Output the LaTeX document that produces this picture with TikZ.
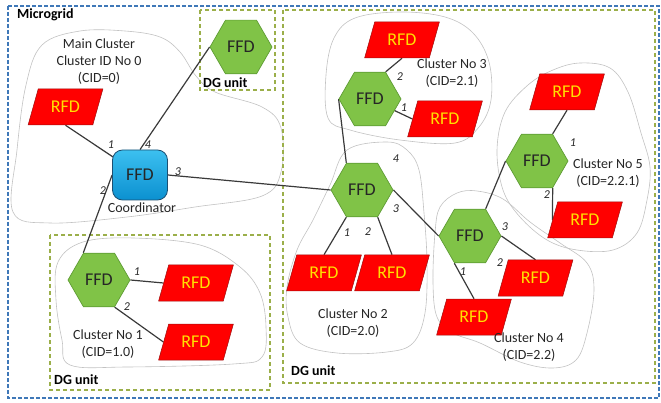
\documentclass[tikz,border=0pt]{standalone}
\usepackage{fontspec}
\setmainfont{Carlito}
\usetikzlibrary{shapes.geometric,backgrounds,calc}
\definecolor{ffdgreen}{HTML}{80C347}
\definecolor{ffdedge}{HTML}{5E9C34}
\definecolor{rfdred}{HTML}{FF0000}
\definecolor{rfdedge}{HTML}{9C1010}
\definecolor{rfdtext}{HTML}{FFE000}
\definecolor{coordtop}{HTML}{3CC0F0}
\definecolor{coordbot}{HTML}{0B90D0}
\definecolor{coordedge}{HTML}{1C4F72}
\definecolor{dggreen}{HTML}{9BAF4A}
\definecolor{gridblue}{HTML}{3F78B8}
\definecolor{linkgray}{HTML}{3A3A3A}
\definecolor{blobgray}{HTML}{C2C2C2}
\definecolor{txt}{HTML}{262626}
\begin{document}
\begin{tikzpicture}[x=1pt,y=-1pt,
  ffd/.style={regular polygon, regular polygon sides=6, minimum size=62pt, inner sep=0pt,
    fill=ffdgreen, draw=ffdedge, line width=0.7pt, font=\fontsize{18}{20}\selectfont, text=txt},
  rfd/.style={trapezium, trapezium left angle=65, trapezium right angle=115, trapezium stretches=true,
    minimum width=75pt, minimum height=36pt, inner sep=0pt, fill=rfdred, draw=rfdedge, line width=0.5pt,
    font=\fontsize{18}{20}\selectfont, text=rfdtext},
  coord/.style={rectangle, rounded corners=10pt, minimum width=55pt, minimum height=50pt,
    top color=coordtop, bottom color=coordbot, draw=coordedge, line width=0.8pt,
    font=\fontsize{18}{20}\selectfont, text=txt},
  link/.style={draw=linkgray, line width=1.2pt},
  blob/.style={draw=blobgray, line width=0.6pt},
  dgbox/.style={draw=dggreen, line width=1.8pt, dash pattern=on 4pt off 3pt},
  gridbox/.style={draw=gridblue, line width=1.8pt, dash pattern=on 4pt off 2pt},
  caption/.style={font=\fontsize{14}{17}\selectfont, text=txt, inner sep=0pt, align=center},
  tag/.style={font=\bfseries\fontsize{14}{16}\selectfont, text=black, inner sep=0pt, anchor=west},
  port/.style={font=\itshape\fontsize{12}{14}\selectfont, text=txt, inner sep=0pt},
]
\useasboundingbox (0,0) rectangle (661,403);

% devices
\node[ffd] (dg) at (241,47) {FFD};
\node[coord] (co) at (140,175) {FFD};
\node[rfd] (r0) at (65.5,107) {RFD};
\node[ffd] (c1) at (99,280) {FFD};
\node[rfd] (r11) at (196,283) {RFD};
\node[rfd] (r12) at (196,342) {RFD};
\node[ffd] (c2) at (362,190) {FFD};
\node[rfd] (r21) at (324,273) {RFD};
\node[rfd] (r22) at (392,273) {RFD};
\node[ffd] (c3) at (370,99) {FFD};
\node[rfd] (r31) at (402,40) {RFD};
\node[rfd] (r32) at (445,119) {RFD};
\node[ffd] (c5) at (537,161) {FFD};
\node[rfd] (r51) at (567,92) {RFD};
\node[rfd] (r52) at (585,220) {RFD};
\node[ffd] (c4) at (470,236) {FFD};
\node[rfd] (r41) at (535.5,278) {RFD};
\node[rfd] (r42) at (474,317) {RFD};

% cluster captions
\node[caption] (cap0) at (99,62) {Main Cluster\\Cluster ID No 0\\(CID=0)};
\node[caption] (capco) at (142,208) {Coordinator};
\node[caption] (cap1) at (108,344) {Cluster No 1\\(CID=1.0)};
\node[caption] (cap2) at (353,323.5) {Cluster No 2\\(CID=2.0)};
\node[caption] (cap3) at (452,73.5) {Cluster No 3\\(CID=2.1)};
\node[caption] (cap5) at (608,173.5) {Cluster No 5\\(CID=2.2.1)};
\node[caption] (cap4) at (529,347.5) {Cluster No 4\\(CID=2.2)};

% area tags
\node[tag] (mg) at (17,15) {Microgrid};
\node[tag] (dgt1) at (203,83) {DG unit};
\node[tag] (dgt2) at (54,380) {DG unit};
\node[tag] (dgt3) at (291,371) {DG unit};

% port numbers
\node[port] (p01) at (111,145) {1};
\node[port] (p04) at (148,145) {4};
\node[port] (p03) at (178,172) {3};
\node[port] (p02) at (103,191) {2};
\node[port] (p11) at (137,272) {1};
\node[port] (p12) at (127,307) {2};
\node[port] (p24) at (396,159) {4};
\node[port] (p23) at (396,209) {3};
\node[port] (p21) at (347,233) {1};
\node[port] (p22) at (368,232) {2};
\node[port] (p32) at (400,77) {2};
\node[port] (p31) at (404,108) {1};
\node[port] (p51) at (573,143) {1};
\node[port] (p52) at (547,195) {2};
\node[port] (p43) at (505,227) {3};
\node[port] (p42) at (500,263) {2};
\node[port] (p41) at (463,272) {1};

\begin{pgfonlayer}{background}
  % cluster outlines
  \draw[blob] plot[smooth cycle, tension=0.6] coordinates {
    (13,212) (17,150) (26,85) (42,45) (80,31) (125,31) (160,37) (180,52) (196,76) (215,92)
    (262,107) (281,128) (281,172) (262,196) (195,207) (127,217) (50,223)};
  \draw[blob] plot[smooth cycle, tension=0.6] coordinates {
    (58,262) (83,242) (133,238) (200,245) (240,267) (260,293) (266,327) (262,357) (233,364)
    (127,367) (70,365) (62,340) (56,300)};
  \draw[blob] plot[smooth cycle, tension=0.6] coordinates {
    (347,150) (387,142) (407,150) (419,170) (424,213) (427,263) (425,313) (413,343) (387,352)
    (337,353) (300,343) (288,317) (287,287) (297,250) (313,220) (330,185)};
  \draw[blob] plot[smooth cycle, tension=0.6] coordinates {
    (328,118) (326,75) (334,38) (355,18) (400,12) (445,17) (473,33) (489,62) (491,100)
    (479,127) (455,143) (400,140) (350,130)};
  \draw[blob] plot[smooth cycle, tension=0.6] coordinates {
    (497,150) (505,112) (528,85) (553,70) (580,63) (610,68) (628,92) (641,133) (650,167)
    (647,200) (637,233) (613,250) (577,250) (547,240) (520,217) (503,190)};
  \draw[blob] plot[smooth cycle, tension=0.6] coordinates {
    (440,207) (457,193) (477,191) (503,199) (530,222) (560,243) (587,263) (594,290) (587,333)
    (576,360) (553,368) (520,362) (480,343) (453,333) (437,317) (433,283) (435,233)};

  % microgrid and DG unit borders
  \draw[gridbox] (8,6) rectangle (659,398);
  \draw[dgbox] (200,10) rectangle (275,90);
  \draw[dgbox] (50,235) rectangle (270,390);
  \draw[dgbox] (283,10) rectangle (655,383);

  % links
  \draw[link] (r0.south) -- (co.center);
  \draw[link] (co.north) -- (dg.180);
  \draw[link] (co.east) -- (c2.180);
  \draw[link] (co.west) -- (c1.120);
  \draw[link] (c1.0) -- (r11.west);
  \draw[link] (c1.300) -- (r12.west);
  \draw[link] (c2.120) -- (c3.180);
  \draw[link] (c2.0) -- (c4.180);
  \draw[link] (c2.240) -- (r21.north);
  \draw[link] (c2.300) -- (r22.north);
  \draw[link] (c3.60) -- (r31.south);
  \draw[link] (c3.center) -- (r32.west);
  \draw[link] (c5.60) -- (r51.south);
  \draw[link] (c5.300) -- (r52.west);
  \draw[link] (c5.180) -- (c4.60);
  \draw[link] (c4.0) -- (r41.north);
  \draw[link] (c4.240) -- (r42.north);
\end{pgfonlayer}
\end{tikzpicture}
\end{document}
